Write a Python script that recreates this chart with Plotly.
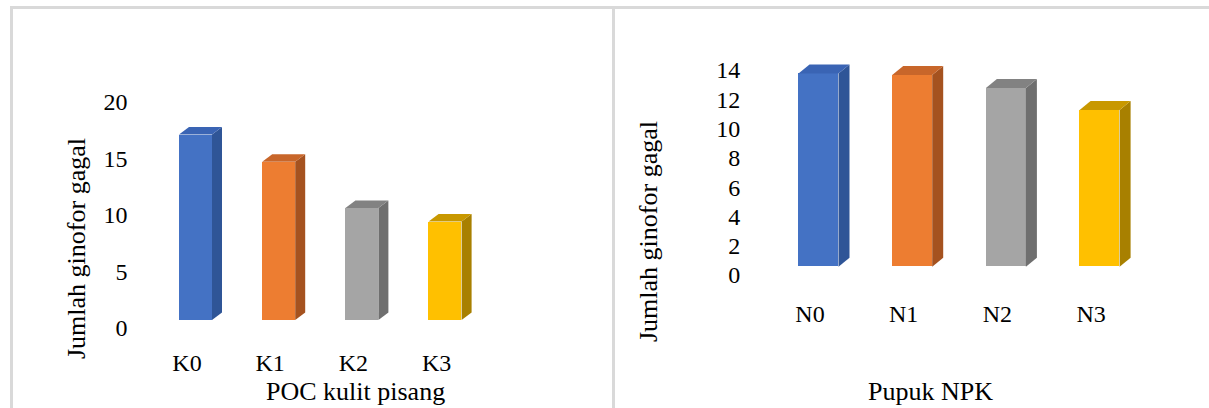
import plotly.graph_objects as go

# ---- data ----
poc_labels = ["K0", "K1", "K2", "K3"]
poc_values = [16.4, 14.0, 9.9, 8.7]
npk_labels = ["N0", "N1", "N2", "N3"]
npk_values = [13.2, 13.1, 12.2, 10.7]
y_title = "Jumlah ginofor gagal"
poc_title = "POC kulit pisang"
npk_title = "Pupuk NPK"
left_ticks = [0, 5, 10, 15, 20]
right_ticks = [0, 2, 4, 6, 8, 10, 12, 14]

# ---- style ----
FRONT = ["#4472C4", "#ED7D31", "#A5A5A5", "#FFC000"]
SIDE = ["#2F5597", "#A5521F", "#6F6F6F", "#A88000"]
TOP = ["#3A64B4", "#C8662A", "#828282", "#C89800"]
FONT = "Liberation Serif"
W, H = 1209, 408


def px_to_paper_y(p):
    return 1 - p / H


def add_3d_bars(fig, labels, values, xa, ya, xscale, yscale,
                width_px, shift_px, depth_px):
    n = len(values)
    xs = list(range(n))
    bx = shift_px[0] / xscale
    by = shift_px[1] / yscale
    w = width_px / xscale
    dx = depth_px[0] / xscale
    dy = depth_px[1] / yscale
    # side and top faces (oblique projection of the data bars)
    for i, v in zip(xs, values):
        xr = i + bx + w / 2
        xl = i + bx - w / 2
        fig.add_trace(go.Scatter(
            x=[xr, xr + dx, xr + dx, xr, xr],
            y=[by, by + dy, by + v + dy, by + v, by],
            fill="toself", fillcolor=SIDE[i], mode="lines",
            line=dict(width=0, color=SIDE[i]), hoverinfo="skip",
            showlegend=False, xaxis=xa, yaxis=ya))
        fig.add_trace(go.Scatter(
            x=[xl, xl + dx, xr + dx, xr, xl],
            y=[by + v, by + v + dy, by + v + dy, by + v, by + v],
            fill="toself", fillcolor=TOP[i], mode="lines",
            line=dict(width=0, color=TOP[i]), hoverinfo="skip",
            showlegend=False, xaxis=xa, yaxis=ya))
    fig.add_trace(go.Bar(
        x=[i + bx for i in xs], y=values, base=[by] * n, width=w,
        marker=dict(color=FRONT, line=dict(width=0)),
        showlegend=False, xaxis=xa, yaxis=ya))


fig = go.Figure()

# panel geometry (pixels)
L_x0_px, L_dx_px = 187.0, 83.2      # label centre of first category, spacing
L_y0_px, L_unit_px = 328.0, 11.31   # y=0 pixel, pixels per unit
R_x0_px, R_dx_px = 810.0, 93.7
R_y0_px, R_unit_px = 275.0, 14.64

add_3d_bars(fig, poc_labels, poc_values, "x", "y", L_dx_px, L_unit_px,
            33, (8.5, 8.0), (10, 7.5))
add_3d_bars(fig, npk_labels, npk_values, "x2", "y2", R_dx_px, R_unit_px,
            40, (8.5, 8.3), (11, 9))

L_ymax = 20
R_ymax = 15

tickfont = dict(family=FONT, size=24, color="black")
axis_common = dict(showgrid=False, zeroline=False, showline=False,
                   ticks="", fixedrange=True, automargin=False)

fig.update_layout(
    width=W, height=H, autosize=False,
    margin=dict(l=0, r=0, t=0, b=0, pad=0, autoexpand=False),
    paper_bgcolor="white", plot_bgcolor="rgba(0,0,0,0)",
    bargap=0, showlegend=False,
    font=dict(family=FONT, color="black", size=24),
    xaxis=dict(axis_common, tickfont=tickfont,
               domain=[(L_x0_px - 0.5 * L_dx_px) / W, (L_x0_px + 3.5 * L_dx_px) / W],
               range=[-0.5, 3.5], tickvals=list(range(len(poc_labels))),
               ticktext=poc_labels, anchor="y", ticklabelstandoff=18),
    yaxis=dict(axis_common, tickfont=tickfont,
               domain=[px_to_paper_y(L_y0_px), px_to_paper_y(L_y0_px - L_ymax * L_unit_px)],
               range=[0, L_ymax], tickvals=left_ticks,
               anchor="x", ticklabelstandoff=17),
    xaxis2=dict(axis_common, tickfont=tickfont,
                domain=[(R_x0_px - 0.5 * R_dx_px) / W, (R_x0_px + 3.5 * R_dx_px) / W],
                range=[-0.5, 3.5], tickvals=list(range(len(npk_labels))),
                ticktext=npk_labels, anchor="y2", ticklabelstandoff=22),
    yaxis2=dict(axis_common, tickfont=tickfont,
                domain=[px_to_paper_y(R_y0_px), px_to_paper_y(R_y0_px - R_ymax * R_unit_px)],
                range=[0, R_ymax], tickvals=right_ticks,
                anchor="x2", ticklabelstandoff=22),
)

# panel borders
border = dict(color="#D9D9D9", width=3)
fig.add_shape(type="line", xref="paper", yref="paper",
              x0=10 / W, x1=1, y0=px_to_paper_y(7.5), y1=px_to_paper_y(7.5), line=border)
fig.add_shape(type="line", xref="paper", yref="paper",
              x0=11.5 / W, x1=11.5 / W, y0=0, y1=px_to_paper_y(6), line=border)
fig.add_shape(type="line", xref="paper", yref="paper",
              x0=613.5 / W, x1=613.5 / W, y0=0, y1=px_to_paper_y(6), line=border)


def title(text, xp, yp, angle=0):
    fig.add_annotation(text=text, xref="paper", yref="paper",
                       x=xp / W, y=px_to_paper_y(yp), showarrow=False,
                       textangle=angle, xanchor="center", yanchor="middle",
                       font=dict(family=FONT, size=26, color="black"))


title(y_title, 76, 249, -90)
title(y_title, 648, 231, -90)
title(poc_title, 355, 391)
title(npk_title, 930, 391)

fig.write_html("out.html")
